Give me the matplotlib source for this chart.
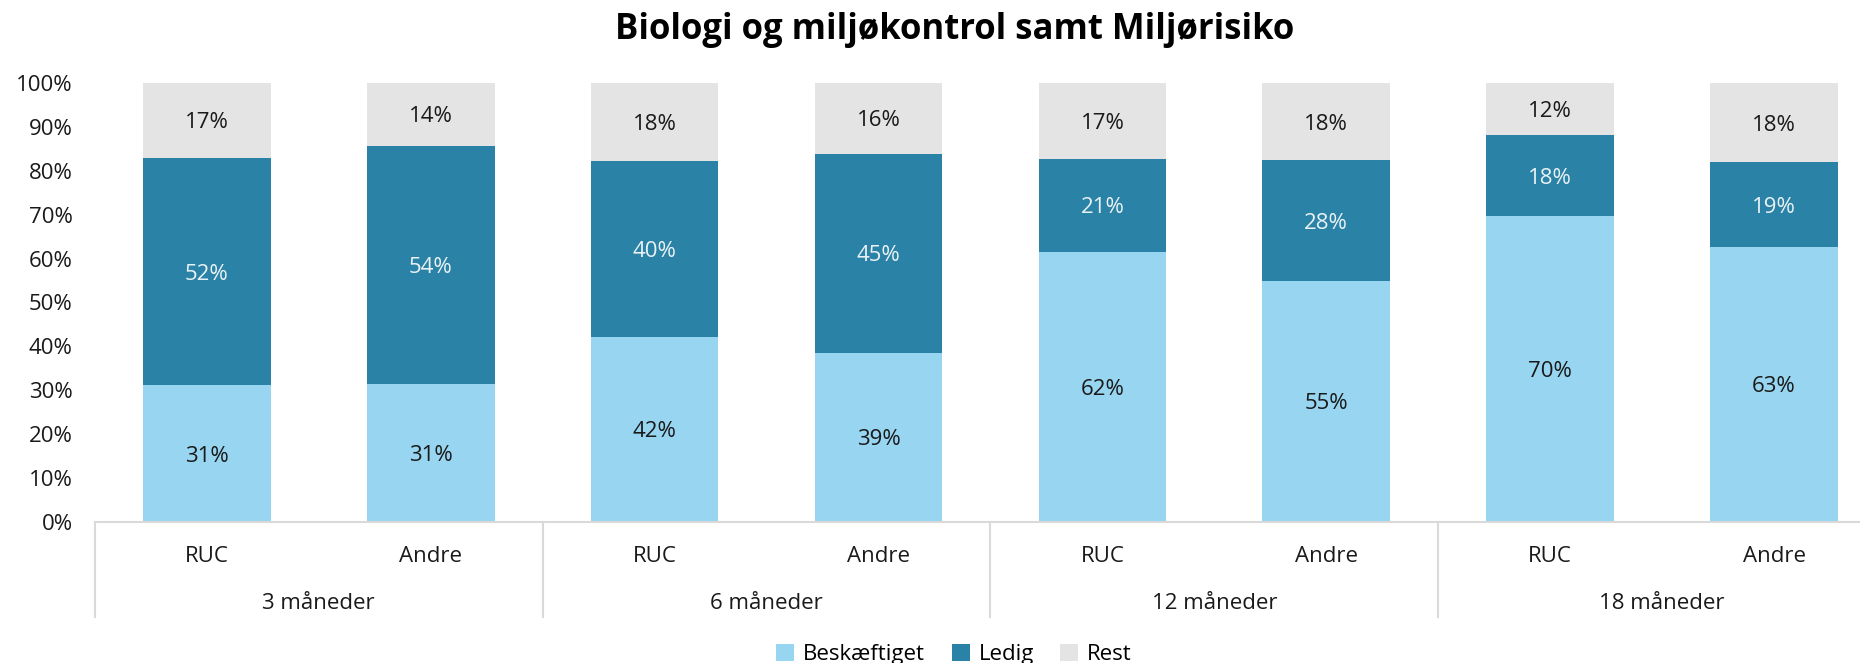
import numpy as np
import matplotlib.pyplot as plt
import matplotlib.transforms as mtransforms

plt.rcParams['font.family'] = ['Open Sans', 'DejaVu Sans']

# Data
groups = ['3 måneder', '6 måneder', '12 måneder', '18 måneder']
bar_labels = ['RUC', 'Andre'] * 4
beskaeftiget = [31.1, 31.4, 42.2, 38.6, 61.6, 54.9, 69.7, 62.7]
ledig = [51.9, 54.3, 40.0, 45.3, 21.1, 27.5, 18.4, 19.2]
rest = [17.0, 14.3, 17.8, 16.1, 17.3, 17.6, 11.9, 18.1]

c_bes = '#97D5F0'
c_led = '#2A83A6'
c_rest = '#E4E4E4'

fig = plt.figure(figsize=(18.6, 6.63), dpi=100)
ax = fig.add_axes([0.051, 0.2127, 0.963, 0.6621])

x = np.arange(len(bar_labels))
width = 0.57
bes = np.array(beskaeftiget) / 100
led = np.array(ledig) / 100
res = np.array(rest) / 100

b1 = ax.bar(x, bes, width, color=c_bes, label='Beskæftiget')
b2 = ax.bar(x, led, width, bottom=bes, color=c_led, label='Ledig')
b3 = ax.bar(x, res, width, bottom=bes + led, color=c_rest, label='Rest')

# segment labels
for i in range(len(x)):
    ax.text(x[i], bes[i] / 2, '%d%%' % round(beskaeftiget[i]), ha='center',
            va='center_baseline', fontsize=16, color='#1a1a1a')
    ax.text(x[i], bes[i] + led[i] / 2, '%d%%' % round(ledig[i]), ha='center',
            va='center_baseline', fontsize=16, color='#EAF2F6')
    ax.text(x[i], bes[i] + led[i] + res[i] / 2, '%d%%' % round(rest[i]), ha='center',
            va='center_baseline', fontsize=16, color='#1a1a1a')

ax.set_xlim(-0.5, 7.5)
ax.set_ylim(0, 1)
ax.set_yticks(np.arange(0, 1.01, 0.1))
ax.set_yticklabels(['%d%%' % v for v in range(0, 101, 10)])
ax.tick_params(axis='y', length=0, pad=16, labelsize=16, labelcolor='#1a1a1a')
ax.set_xticks(x)
ax.set_xticklabels(bar_labels)
ax.tick_params(axis='x', length=0, pad=17, labelsize=16, labelcolor='#1a1a1a')

for s in ['top', 'right', 'left']:
    ax.spines[s].set_visible(False)
ax.spines['bottom'].set_color('#D9D9D9')
ax.spines['bottom'].set_linewidth(1.5)

# group labels and separators
trans = mtransforms.blended_transform_factory(ax.transData, ax.transAxes)
for g in range(len(groups)):
    ax.text(2 * g + 0.5, -0.186, groups[g], transform=trans, ha='center', va='center',
            fontsize=16, color='#1a1a1a')
for g in range(len(groups) + 1):
    ax.plot([2 * g - 0.5, 2 * g - 0.5], [0, -0.216], transform=trans, color='#D9D9D9',
            lw=1.5, clip_on=False)

fig.text(0.513, 0.955, 'Biologi og miljøkontrol samt Miljørisiko', ha='center', va='center',
         fontsize=25, fontweight='bold', color='#000000')

fig.legend(handles=[b1, b2, b3], loc='center', bbox_to_anchor=(0.513, 0.013), ncol=3,
           frameon=False, fontsize=16, handlelength=0.8, handleheight=0.8,
           handletextpad=0.4, columnspacing=1.2)

plt.savefig('out.png', dpi=100)
